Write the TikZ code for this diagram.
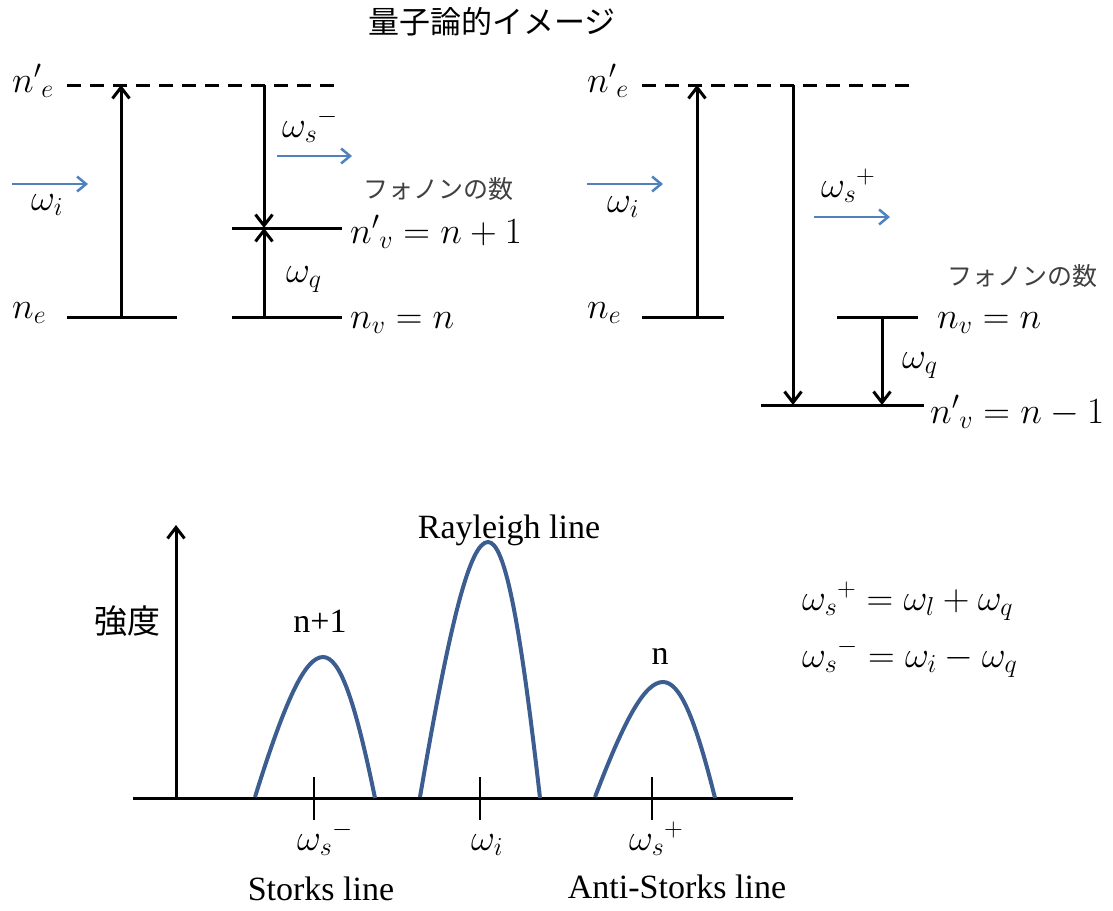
\RequirePackage{fix-cm}
\documentclass[tikz,border=0pt]{standalone}
\usepackage{fontspec}
\setmainfont{Liberation Serif}
\newfontfamily\jp{Noto Sans CJK JP}
\usetikzlibrary{arrows.meta}
\definecolor{lblue}{HTML}{4F81BD}
\definecolor{pblue}{HTML}{3B5D8F}
\newcommand\mfs{\fontsize{37}{42}\selectfont}
\newcommand\tfs{\fontsize{34}{39}\selectfont}
\newcommand\mypeak[2]{% #1 = peak x, #2 = height
  \draw[pk] ({#1-68},797) .. controls ({#1-38},{798-0.69*#2}) and ({#1-18},{798-#2}) .. ({#1},{798-#2})
    .. controls ({#1+17},{798-#2}) and ({#1+32},{798-0.69*#2}) .. ({#1+52},798);}
\begin{document}
\begin{tikzpicture}[x=1pt,y=-1pt,
  lev/.style={line width=3pt},
  dlev/.style={line width=3pt,dash pattern=on 14pt off 9pt},
  tr/.style={line width=3pt,-{Straight Barb[length=11pt,width=17pt]}},
  ph/.style={line width=2.5pt,draw=lblue,-{Straight Barb[length=9pt,width=15pt]}},
  pk/.style={line width=4pt,draw=pblue},
  tick/.style={line width=1.3pt},
  lab/.style={inner sep=0pt,anchor=base west,font=\mfs},
  tlab/.style={inner sep=0pt,anchor=base,font=\tfs},
  jlab/.style={inner sep=0pt,font=\jp\fontsize{25}{29}\selectfont,text=black!75},
  ]
\useasboundingbox (0,0) rectangle (1113,910);
% title
\node[inner sep=0pt,font=\jp\fontsize{31}{36}\selectfont] (title) at (492,22) {量子論的イメージ};
% ---------- left panel ----------
\coordinate (LdA) at (67,85); \coordinate (LdB) at (342,85);
\coordinate (LeA) at (67,317); \coordinate (LeB) at (177,317);
\coordinate (LvA) at (232,228); \coordinate (LvB) at (342,228);
\coordinate (LwA) at (232,317); \coordinate (LwB) at (342,317);
\coordinate (Lup0) at (121,317); \coordinate (Lup1) at (121,85);
\coordinate (Ls0) at (264,85); \coordinate (Ls1) at (264,228); \coordinate (Lq0) at (264,317);
\coordinate (Li0) at (12,184); \coordinate (Li1) at (88,184);
\coordinate (Lo0) at (277,156); \coordinate (Lo1) at (352,156);
\draw[dlev] (LdA) -- (LdB);
\draw[lev] (LeA) -- (LeB);
\draw[lev] (LvA) -- (LvB);
\draw[lev] (LwA) -- (LwB);
\draw[tr] (Lup0) -- (Lup1);
\draw[tr] (Ls0) -- (Ls1);
\draw[tr] (Lq0) -- (Ls1);
\draw[ph] (Li0) -- (Li1);
\draw[ph] (Lo0) -- (Lo1);
\node[lab] (Lnep) at (12,92) {${n'}_e$};
\node[lab] (Lne) at (12,318) {$n_e$};
\node[lab] (Lwi) at (31,210) {$\omega_i$};
\node[lab] (Lws) at (282,137) {${\omega_s}^{-}$};
\node[lab] (Lwq) at (286,282) {$\omega_q$};
\node[jlab] (Lph) at (438,189) {フォノンの数};
\node[lab] (Lnvp) at (350,243) {${n'}_v = n + 1$};
\node[lab] (Lnv) at (350,328) {$n_v = n$};
% ---------- right panel ----------
\coordinate (RdA) at (642,85); \coordinate (RdB) at (916,85);
\coordinate (ReA) at (642,317); \coordinate (ReB) at (724,317);
\coordinate (RwA) at (837,317); \coordinate (RwB) at (918,317);
\coordinate (RvA) at (761,405); \coordinate (RvB) at (924,405);
\coordinate (Rup0) at (697,317); \coordinate (Rup1) at (697,85);
\coordinate (Rs0) at (793,85); \coordinate (Rs1) at (793,405);
\coordinate (Rq0) at (882,317); \coordinate (Rq1) at (882,405);
\coordinate (Ri0) at (587,184); \coordinate (Ri1) at (663,184);
\coordinate (Ro0) at (814,217); \coordinate (Ro1) at (890,217);
\draw[dlev] (RdA) -- (RdB);
\draw[lev] (ReA) -- (ReB);
\draw[lev] (RwA) -- (RwB);
\draw[lev] (RvA) -- (RvB);
\draw[tr] (Rup0) -- (Rup1);
\draw[tr] (Rs0) -- (Rs1);
\draw[tr] (Rq0) -- (Rq1);
\draw[ph] (Ri0) -- (Ri1);
\draw[ph] (Ro0) -- (Ro1);
\node[lab] (Rnep) at (587,92) {${n'}_e$};
\node[lab] (Rne) at (587,318) {$n_e$};
\node[lab] (Rwi) at (607,212) {$\omega_i$};
\node[lab] (Rws) at (821,197) {${\omega_s}^{+}$};
\node[lab] (Rwq) at (902,368) {$\omega_q$};
\node[jlab] (Rph) at (1022,276) {フォノンの数};
\node[lab] (Rnv) at (937,328) {$n_v = n$};
\node[lab] (Rnvp) at (930,423) {${n'}_v = n - 1$};
% ---------- spectrum ----------
\coordinate (Ax0) at (176,798); \coordinate (Ax1) at (176,525);
\coordinate (HxA) at (133,798); \coordinate (HxB) at (793,798);
\draw[lev] (HxA) -- (HxB);
\draw[tr] (Ax0) -- (Ax1);
\foreach \t/\nm in {314/Ta,480/Tb,652/Tc}{
  \coordinate (\nm0) at (\t,777); \coordinate (\nm1) at (\t,820);
  \draw[tick] (\nm0) -- (\nm1);}
\mypeak{323}{141}
\mypeak{488}{256}
\mypeak{663}{116}
\node[inner sep=0pt,font=\jp\fontsize{33}{38}\selectfont] (int) at (127,621) {強度};
\node[tlab] (ray) at (509,538) {Rayleigh line};
\node[tlab] (np1) at (320,632) {n+1};
\node[tlab] (nn) at (660,664) {n};
\node[lab] (bws1) at (297,850) {${\omega_s}^{-}$};
\node[lab] (bwi) at (471,850) {$\omega_i$};
\node[lab] (bws2) at (629,850) {${\omega_s}^{+}$};
\node[tlab] (st) at (321,900) {Storks line};
\node[tlab] (ast) at (677,898) {Anti-Storks line};
\node[lab] (eq1) at (802,610) {${\omega_s}^{+} = \omega_l + \omega_q$};
\node[lab] (eq2) at (802,667) {${\omega_s}^{-} = \omega_i - \omega_q$};
\end{tikzpicture}
\end{document}
